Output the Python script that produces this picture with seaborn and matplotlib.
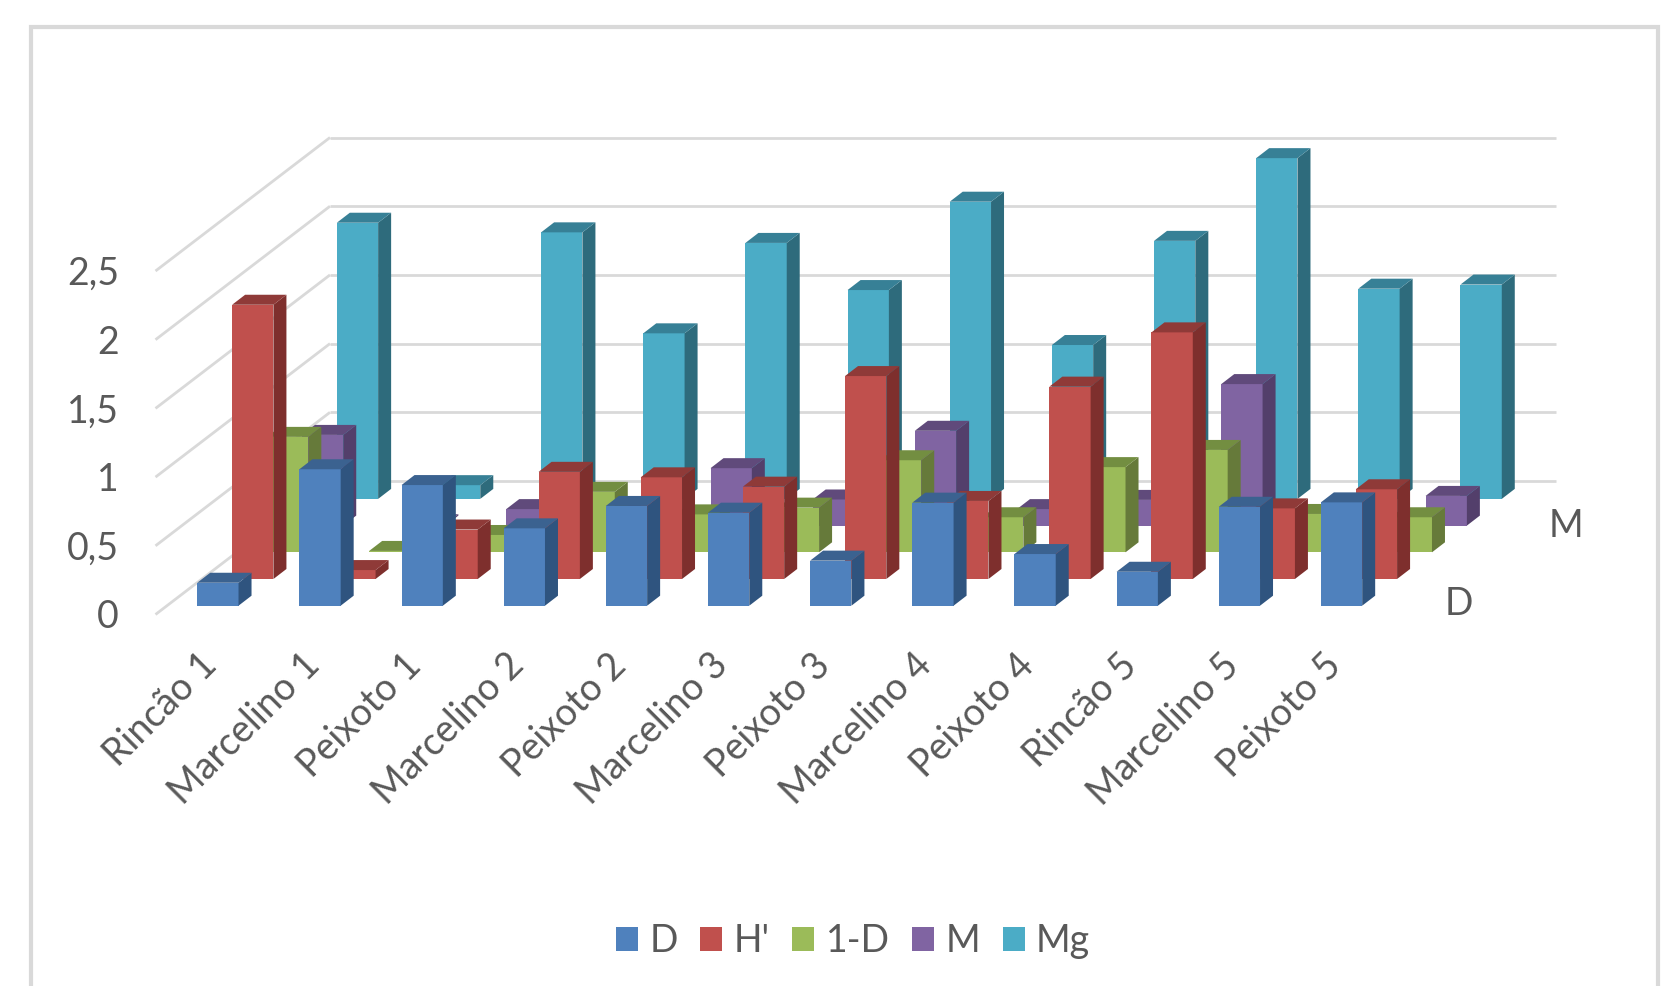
import matplotlib
matplotlib.use("Agg")
import matplotlib.pyplot as plt
from matplotlib.patches import Patch, Polygon, Rectangle
from matplotlib.lines import Line2D
from matplotlib.transforms import ScaledTranslation
import pandas as pd
import seaborn as sns

categories = ["Rincão 1", "Marcelino 1", "Peixoto 1", "Marcelino 2", "Peixoto 2", "Marcelino 3",
              "Peixoto 3", "Marcelino 4", "Peixoto 4", "Rincão 5", "Marcelino 5", "Peixoto 5"]
d_values = [0.167, 0.993, 0.878, 0.563, 0.726, 0.677, 0.328, 0.750, 0.376, 0.247, 0.720, 0.752]
h_values = [1.996, 0.065, 0.360, 0.780, 0.740, 0.672, 1.477, 0.568, 1.400, 1.795, 0.514, 0.653]
one_minus_d = [0.840, 0.010, 0.126, 0.440, 0.276, 0.325, 0.670, 0.255, 0.620, 0.745, 0.279, 0.255]
m_values = [0.660, 0.010, 0.120, 0.140, 0.418, 0.190, 0.690, 0.120, 0.187, 1.030, 0.100, 0.216]
mg_values = [2.010, 0.100, 1.940, 1.205, 1.863, 1.520, 2.163, 1.120, 1.878, 2.480, 1.530, 1.560]
series_names = ["D", "H'", "1-D", "M", "Mg"]
series_values = [d_values, h_values, one_minus_d, m_values, mg_values]
front_colors = ["#4F81BD", "#C0504D", "#9BBB59", "#8064A2", "#4BACC6"]
side_colors = ["#2F547F", "#7E2F2D", "#667A3A", "#533F6B", "#2E6B7C"]
top_colors = ["#3B6290", "#8F3A38", "#738E41", "#604A7B", "#378096"]
y_ticks = [0, 0.5, 1, 1.5, 2, 2.5]
y_tick_labels = ["0", "0,5", "1", "1,5", "2", "2,5"]

W, H = 1665, 986
SLOT = 102.15
UNIT = 137.4
BAR = 41.3
STEP_X, STEP_Y = 34.9, 26.7
FACE_X, FACE_Y = 13.0, 10.0
TEXT = "#595959"
GRID = "#D9D9D9"
FONT = "Lato"
SIZE = 27

sns.set_theme(style="white")
plt.rcParams["font.family"] = [FONT, "DejaVu Sans"]
fig = plt.figure(figsize=(W / 100, H / 100), dpi=100, facecolor="white")

fig.add_artist(Rectangle((31 / W, -0.1), (1658 - 31) / W, 1.1 - 27 / H, transform=fig.transFigure,
                         fill=False, edgecolor=GRID, linewidth=3))


def make_axes(left, base):
    ax = fig.add_axes([left / W, 1 - base / H, 12 * SLOT / W, 2.5 * UNIT / H])
    ax.patch.set_visible(False)
    for spine in ax.spines.values():
        spine.set_visible(False)
    return ax


# back wall with grid, and the side wall diagonals
wall = make_axes(330, 481)
wall.set_xlim(-0.5, 11.5)
wall.set_ylim(0, 2.5)
wall.set_xticks([])
wall.set_yticks([])
for tick in y_ticks:
    wall.axhline(tick, color=GRID, lw=2, clip_on=False, solid_capstyle="butt")
    wall.add_line(Line2D([-0.5, -0.5 - 5 * STEP_X / SLOT], [tick, tick - 5 * STEP_Y / UNIT],
                         color=GRID, lw=2, clip_on=False, solid_capstyle="butt"))

# value axis at the front left corner
front = make_axes(155, 614)
front.set_xlim(-0.5, 11.5)
front.set_ylim(0, 2.5)
front.set_xticks([])
front.set_yticks(y_ticks)
front.set_yticklabels(y_tick_labels, color=TEXT, fontsize=SIZE)
front.tick_params(axis="y", length=0, pad=26)

# one axes per series, from the back row to the front row
for s in range(4, -1, -1):
    ax = make_axes(166.8 + s * STEP_X, 605.7 - s * STEP_Y)
    df = pd.DataFrame({"category": categories, "value": series_values[s]})
    sns.barplot(data=df, x="category", y="value", color=front_colors[s], saturation=1,
                width=BAR / SLOT, ax=ax, errorbar=None, edgecolor="none", linewidth=0)
    ax.set_xlim(-0.5, 11.5)
    ax.set_ylim(0, 2.5)
    ax.set_xlabel("")
    ax.set_ylabel("")
    ax.set_yticks([])
    dx, dy = FACE_X / SLOT, FACE_Y / UNIT
    for bar in list(ax.patches):
        x0, w, h = bar.get_x(), bar.get_width(), bar.get_height()
        ax.add_patch(Polygon([(x0 + w, 0), (x0 + w + dx, dy), (x0 + w + dx, h + dy), (x0 + w, h)],
                             facecolor=side_colors[s], edgecolor="none", linewidth=0, clip_on=False))
        ax.add_patch(Polygon([(x0, h), (x0 + w, h), (x0 + w + dx, h + dy), (x0 + dx, h + dy)],
                             facecolor=top_colors[s], edgecolor="none", linewidth=0, clip_on=False))
    if s == 0:
        ax.set_xticks(range(len(categories)))
        ax.set_xticklabels(categories, rotation=45, ha="right", rotation_mode="anchor",
                           color=TEXT, fontsize=SIZE)
        ax.tick_params(axis="x", length=0, pad=24)
        shift = ScaledTranslation(-19 / 100, -8 / 100, fig.dpi_scale_trans)
        for label in ax.get_xticklabels():
            label.set_transform(label.get_transform() + shift)
    else:
        ax.set_xticks([])
    if series_names[s] in ("D", "M"):
        ax.annotate(series_names[s], xy=(11.5, 0), xytext=(66 if s == 0 else 69, 2 if s == 0 else 0),
                    textcoords="offset pixels", color=TEXT, fontsize=SIZE, ha="center", va="center",
                    annotation_clip=False)

handles = [Patch(facecolor=c, edgecolor="none", label=n) for c, n in zip(front_colors, series_names)]
fig.legend(handles=handles, loc="center", bbox_to_anchor=(853 / W, 1 - 941 / H), ncol=5, frameon=False,
           fontsize=SIZE, labelcolor=TEXT, handlelength=0.59, handleheight=0.59,
           handletextpad=0.3, columnspacing=0.6)

fig.savefig("out.png", dpi=100, facecolor="white")
